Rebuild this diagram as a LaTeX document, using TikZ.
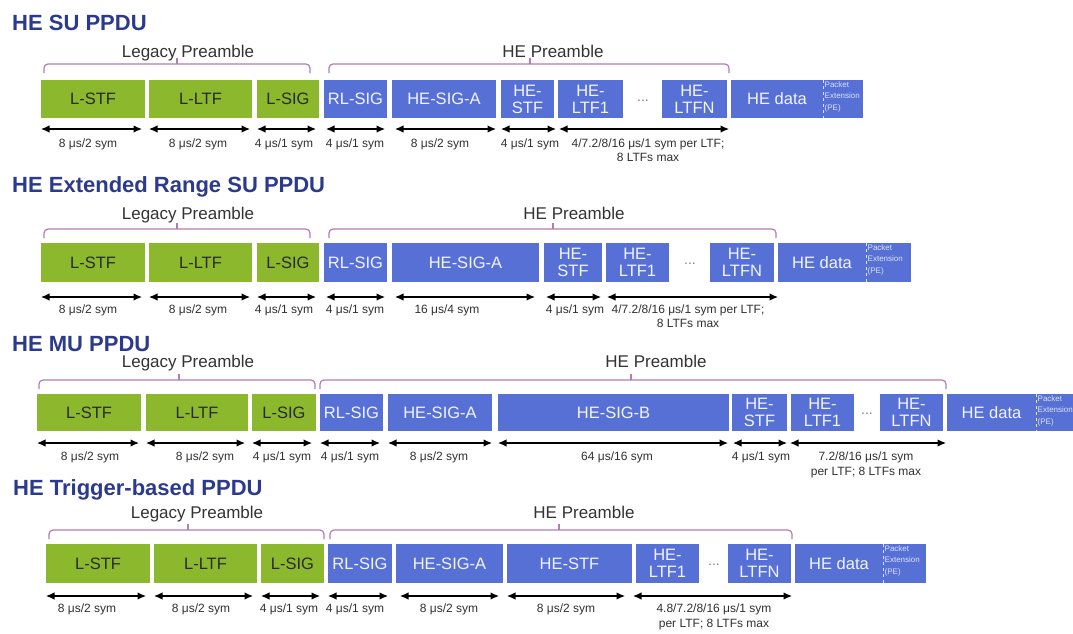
\documentclass[tikz,border=0pt]{standalone}
\usepackage{fontspec}
\setmainfont{Liberation Sans}
\usetikzlibrary{arrows.meta}
\definecolor{lgreen}{HTML}{8CB82E}
\definecolor{heblue}{HTML}{5670D6}
\definecolor{titleblue}{HTML}{2B3A8C}
\definecolor{brkcol}{HTML}{B47CB4}
\definecolor{boxdark}{HTML}{2A2A2A}
\definecolor{boxlight}{HTML}{F2F4FF}
\definecolor{lbltext}{HTML}{303030}
\definecolor{pretext}{HTML}{333333}
\definecolor{pecol}{HTML}{DDE3FA}
\tikzset{
  box/.style={inner sep=0pt, outer sep=0pt, align=center, font=\fontsize{16.5}{17}\selectfont},
  gbox/.style={box, fill=lgreen, text=boxdark},
  bbox/.style={box, fill=heblue, text=boxlight},
  dimarrow/.style={{Latex[length=8.5pt,width=7.5pt]}-{Latex[length=8.5pt,width=7.5pt]}, line width=1.2pt, black},
  lbl/.style={font=\fontsize{12}{14}\selectfont, text=lbltext, inner sep=0pt, anchor=base},
  ttl/.style={font=\bfseries\fontsize{22}{24}\selectfont, text=titleblue, anchor=base west, inner sep=0pt},
  pre/.style={font=\fontsize{17}{19}\selectfont, text=pretext, anchor=base, inner sep=0pt},
  brkline/.style={draw=brkcol, line width=1.2pt, rounded corners=4pt},
  ticks/.style={draw=brkcol, line width=1.2pt},
  dotsn/.style={font=\fontsize{14}{16}\selectfont, text=gray, inner sep=0pt},
  petext/.style={font=\fontsize{8}{11.5}\selectfont, text=pecol, align=left, inner sep=0pt, anchor=north west},
  pediv/.style={draw=pecol, line width=0.6pt, dashed}
}
% box: style, name, x1, x2, y1, y2, text
\newcommand\bx[7]{\node[#1, minimum width={#4pt-#3pt}, minimum height={#6pt-#5pt}, anchor=north west] (#2) at (#3,#5) {#7};}
% dimension arrow: x1, x2, y
\newcommand\dm[3]{\draw[dimarrow] (#1,#3) -- (#2,#3);}
% label: name, x, baseline y, text
\newcommand\lb[4]{\node[lbl] (#1) at (#2,#3) {#4};}
% bracket: x1, x2, line y, end y, tick x, tick top y
\newcommand\brk[6]{\draw[brkline] (#1,#4) -- (#1,#3) -- (#2,#3) -- (#2,#4); \draw[ticks] (#5,#3) -- (#5,#6);}
% packet extension text + divider
\newcommand\pex[2]{\draw[pediv] (#1.north west) -- (#1.south west);
  \node[petext] (#2) at ([xshift=1.5pt,yshift=-1pt]#1.north west) {Packet\\Extension\\(PE)};}
\begin{document}
\begin{tikzpicture}[x=1pt,y=-1pt]
\useasboundingbox[fill=white] (0,0) rectangle (1073,633);

% ---------------- Row 1: HE SU PPDU ----------------
\node[ttl] (t1) at (12,30) {HE SU PPDU};
\node[pre] (lp1) at (188,57) {Legacy Preamble};
\node[pre] (hp1) at (553,57) {HE Preamble};
\brk{44}{310}{64}{73}{177}{58}
\brk{329}{729}{64}{73}{530}{58}
\bx{gbox}{lstf1}{41}{145}{80}{118}{L-STF}
\bx{gbox}{lltf1}{149}{252}{80}{118}{L-LTF}
\bx{gbox}{lsig1}{257}{319}{80}{118}{L-SIG}
\bx{bbox}{rlsig1}{324}{387}{80}{118}{RL-SIG}
\bx{bbox}{siga1}{392}{496}{80}{118}{HE-SIG-A}
\bx{bbox}{stf1}{501}{554}{80}{118}{HE-\\STF}
\bx{bbox}{ltfa1}{558}{623}{80}{118}{HE-\\LTF1}
\node[dotsn] (dt1) at (643,101) {...};
\bx{bbox}{ltfn1}{662}{727}{80}{118}{HE-\\LTFN}
\bx{bbox}{data1}{731}{823}{80}{118}{HE data}
\bx{bbox}{pe1}{823}{863}{80}{118}{}
\pex{pe1}{pet1}
\dm{41}{142}{129}\dm{149}{250}{129}\dm{257}{316}{129}\dm{326}{385}{129}
\dm{395}{496}{129}\dm{501}{556}{129}\dm{559}{729}{129}
\lb{a11}{88}{147}{8 μs/2 sym}
\lb{a12}{198}{147}{8 μs/2 sym}
\lb{a13}{284}{147}{4 μs/1 sym}
\lb{a14}{355}{147}{4 μs/1 sym}
\lb{a15}{440}{147}{8 μs/2 sym}
\lb{a16}{530}{147}{4 μs/1 sym}
\lb{a17}{648}{147}{4/7.2/8/16 μs/1 sym per LTF;}
\lb{a18}{648}{161}{8 LTFs max}

% ---------------- Row 2: HE Extended Range SU PPDU ----------------
\node[ttl] (t2) at (12,192) {HE Extended Range SU PPDU};
\node[pre] (lp2) at (188,219) {Legacy Preamble};
\node[pre] (hp2) at (574,219) {HE Preamble};
\brk{44}{310}{229}{238}{177}{223}
\brk{329}{776}{229}{238}{553}{223}
\bx{gbox}{lstf2}{41}{145}{243}{282}{L-STF}
\bx{gbox}{lltf2}{149}{252}{243}{282}{L-LTF}
\bx{gbox}{lsig2}{257}{319}{243}{282}{L-SIG}
\bx{bbox}{rlsig2}{324}{387}{243}{282}{RL-SIG}
\bx{bbox}{siga2}{392}{539}{243}{282}{HE-SIG-A}
\bx{bbox}{stf2}{544}{602}{243}{282}{HE-\\STF}
\bx{bbox}{ltfa2}{606}{669}{243}{282}{HE-\\LTF1}
\node[dotsn] (dt2) at (690,264) {...};
\bx{bbox}{ltfn2}{710}{774}{243}{282}{HE-\\LTFN}
\bx{bbox}{data2}{778}{866}{243}{282}{HE data}
\bx{bbox}{pe2}{866}{911}{243}{282}{}
\pex{pe2}{pet2}
\dm{41}{142}{297}\dm{149}{250}{297}\dm{257}{316}{297}\dm{326}{385}{297}
\dm{395}{535}{297}\dm{546}{601}{297}\dm{607}{778}{297}
\lb{a21}{88}{313}{8 μs/2 sym}
\lb{a22}{198}{313}{8 μs/2 sym}
\lb{a23}{284}{313}{4 μs/1 sym}
\lb{a24}{355}{313}{4 μs/1 sym}
\lb{a25}{447}{313}{16 μs/4 sym}
\lb{a26}{575}{313}{4 μs/1 sym}
\lb{a27}{688}{313}{4/7.2/8/16 μs/1 sym per LTF;}
\lb{a28}{688}{327}{8 LTFs max}

% ---------------- Row 3: HE MU PPDU ----------------
\node[ttl] (t3) at (12,351) {HE MU PPDU};
\node[pre] (lp3) at (188,367) {Legacy Preamble};
\node[pre] (hp3) at (656,367) {HE Preamble};
\brk{39}{315}{380}{389}{179}{374}
\brk{320}{946}{380}{389}{631}{374}
\bx{gbox}{lstf3}{37}{141}{394}{431}{L-STF}
\bx{gbox}{lltf3}{146}{248}{394}{431}{L-LTF}
\bx{gbox}{lsig3}{252}{316}{394}{431}{L-SIG}
\bx{bbox}{rlsig3}{320}{383}{394}{431}{RL-SIG}
\bx{bbox}{siga3}{388}{492}{394}{431}{HE-SIG-A}
\bx{bbox}{sigb3}{498}{729}{394}{431}{HE-SIG-B}
\bx{bbox}{stf3}{732}{787}{394}{431}{HE-\\STF}
\bx{bbox}{ltfa3}{791}{854}{394}{431}{HE-\\LTF1}
\node[dotsn] (dt3) at (867,414) {...};
\bx{bbox}{ltfn3}{880}{943}{394}{431}{HE-\\LTFN}
\bx{bbox}{data3}{947}{1036}{394}{431}{HE data}
\bx{bbox}{pe3}{1036}{1080}{394}{431}{}
\pex{pe3}{pet3}
\dm{37}{139}{443}\dm{146}{245}{443}\dm{252}{312}{443}\dm{320}{380}{443}
\dm{388}{492}{443}\dm{498}{728}{443}\dm{733}{787}{443}\dm{790}{946}{443}
\lb{a31}{90}{460}{8 μs/2 sym}
\lb{a32}{205}{460}{8 μs/2 sym}
\lb{a33}{282}{460}{4 μs/1 sym}
\lb{a34}{350}{460}{4 μs/1 sym}
\lb{a35}{439}{460}{8 μs/2 sym}
\lb{a36}{617}{460}{64 μs/16 sym}
\lb{a37}{761}{460}{4 μs/1 sym}
\lb{a38}{866}{460}{7.2/8/16 μs/1 sym}
\lb{a39}{866}{475}{per LTF; 8 LTFs max}

% ---------------- Row 4: HE Trigger-based PPDU ----------------
\node[ttl] (t4) at (13,495) {HE Trigger-based PPDU};
\node[pre] (lp4) at (197,518) {Legacy Preamble};
\node[pre] (hp4) at (584,518) {HE Preamble};
\brk{49}{324}{530}{539}{188}{524}
\brk{330}{792}{530}{539}{559}{524}
\bx{gbox}{lstf4}{46}{150}{544}{583}{L-STF}
\bx{gbox}{lltf4}{154}{257}{544}{583}{L-LTF}
\bx{gbox}{lsig4}{261}{324}{544}{583}{L-SIG}
\bx{bbox}{rlsig4}{328}{392}{544}{583}{RL-SIG}
\bx{bbox}{siga4}{396}{503}{544}{583}{HE-SIG-A}
\bx{bbox}{stf4}{507}{632}{544}{583}{HE-STF}
\bx{bbox}{ltfa4}{636}{699}{544}{583}{HE-\\LTF1}
\node[dotsn] (dt4) at (714,565) {...};
\bx{bbox}{ltfn4}{728}{791}{544}{583}{HE-\\LTFN}
\bx{bbox}{data4}{795}{883}{544}{583}{HE data}
\bx{bbox}{pe4}{883}{926}{544}{583}{}
\pex{pe4}{pet4}
\dm{46}{146}{596}\dm{154}{253}{596}\dm{261}{320}{596}\dm{328}{388}{596}
\dm{400}{499}{596}\dm{507}{625}{596}\dm{633}{792}{596}
\lb{a41}{87}{612}{8 μs/2 sym}
\lb{a42}{201}{612}{8 μs/2 sym}
\lb{a43}{289}{612}{4 μs/1 sym}
\lb{a44}{355}{612}{4 μs/1 sym}
\lb{a45}{449}{612}{8 μs/2 sym}
\lb{a46}{566}{612}{8 μs/2 sym}
\lb{a47}{714}{612}{4.8/7.2/8/16 μs/1 sym}
\lb{a48}{714}{627}{per LTF; 8 LTFs max}
\end{tikzpicture}
\end{document}
